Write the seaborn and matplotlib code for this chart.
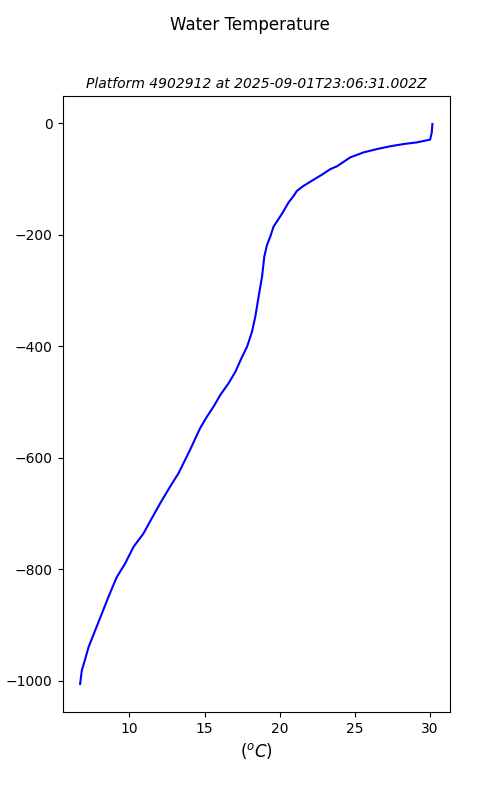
import numpy as np
import pandas as pd
import seaborn as sns
import matplotlib
matplotlib.use("Agg")
import matplotlib.pyplot as plt

# profile
temperature = [30.15, 30.11, 30.0, 29.12, 28.23, 27.34, 26.46, 25.57, 24.68, 24.35,
               23.80, 23.36, 22.80, 22.25, 21.58, 21.14, 20.92, 20.58, 20.15, 19.59,
               19.37, 19.15, 18.97, 18.82, 18.59, 18.37, 18.15, 17.82, 17.49, 17.04,
               16.60, 16.05, 15.60, 15.16, 14.70, 14.03, 13.26, 12.70, 12.04, 11.48,
               10.93, 10.27, 9.71, 9.16, 8.60, 8.16, 7.72, 7.28, 7.06, 6.83, 6.72]
depth = [-1, -16, -29, -34, -37, -41, -46, -52, -61, -67,
         -77, -82, -92, -101, -112, -121, -130, -142, -162, -185,
         -203, -218, -239, -275, -311, -347, -374, -401, -419, -446,
         -466, -487, -508, -526, -547, -586, -628, -652, -682, -709,
         -736, -760, -790, -814, -850, -880, -910, -940, -961, -982, -1006]

df = pd.DataFrame({"temp": temperature, "depth": depth})

fig, ax = plt.subplots(figsize=(5, 8), dpi=100)
sns.lineplot(data=df, x="temp", y="depth", sort=False, color="blue", ax=ax, linewidth=1.5)

fig.suptitle("Water Temperature", fontsize=12)
ax.set_title("Platform 4902912 at 2025-09-01T23:06:31.002Z", fontsize=10, style="italic")
ax.set_xlabel("($^oC$)", fontsize=12)
ax.set_ylabel("depth (m)")

plt.savefig("out.png", dpi=100)
